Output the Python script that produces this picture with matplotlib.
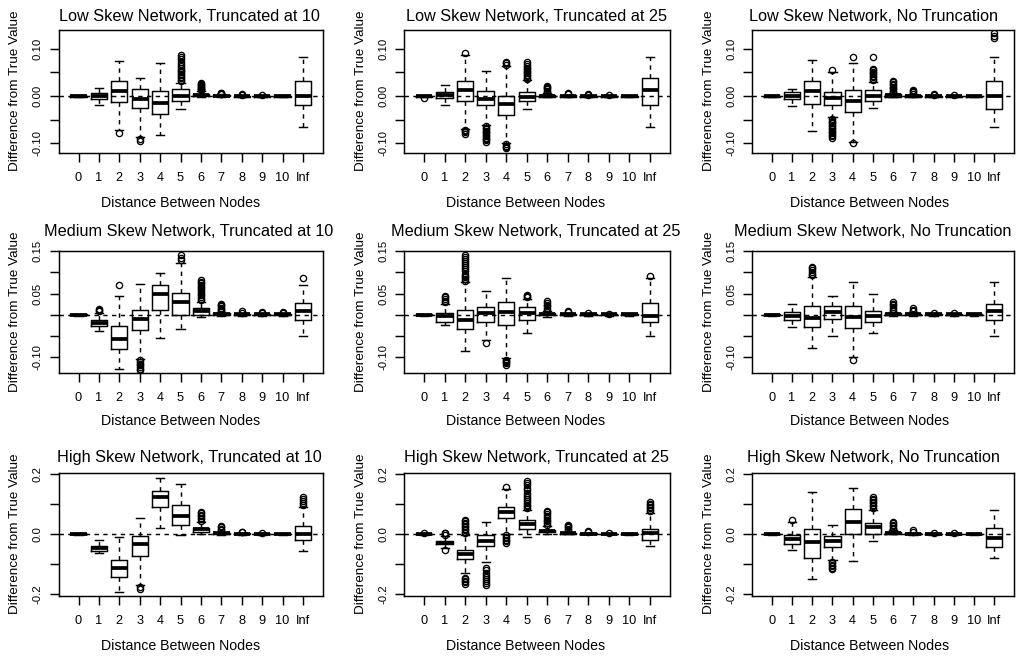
import matplotlib
matplotlib.use("Agg")
import matplotlib.pyplot as plt

plt.rcParams['font.family'] = ['Liberation Sans', 'DejaVu Sans']

# ---------------- data ----------------
categories = ["0", "1", "2", "3", "4", "5", "6", "7", "8", "9", "10", "Inf"]

titles = [
    ["Low Skew Network, Truncated at 10", "Low Skew Network, Truncated at 25", "Low Skew Network, No Truncation"],
    ["Medium Skew Network, Truncated at 10", "Medium Skew Network, Truncated at 25", "Medium Skew Network, No Truncation"],
    ["High Skew Network, Truncated at 10", "High Skew Network, Truncated at 25", "High Skew Network, No Truncation"],
]
x_label = "Distance Between Nodes"
y_label = "Difference from True Value"

low_ticks = [-0.10, -0.05, 0.00, 0.05, 0.10]
low_ticklabels = ["-0.10", "", "0.00", "", "0.10"]
med_ticks = [-0.10, -0.05, 0.00, 0.05, 0.10, 0.15]
med_ticklabels = ["-0.10", "", "", "0.05", "", "0.15"]
high_ticks = [-0.2, -0.1, 0.0, 0.1, 0.2]
high_ticklabels = ["-0.2", "", "0.0", "", "0.2"]

# Low skew, truncated at 10
low10_whislo = [-0.002, -0.020, -0.072, -0.086, -0.083, -0.027, -0.003, -0.002, -0.002, -0.002, -0.002, -0.066]
low10_q1 = [-0.001, -0.006, -0.013, -0.026, -0.039, -0.010, 0.000, 0.000, -0.001, -0.001, -0.001, -0.020]
low10_med = [0.000, 0.000, 0.010, -0.006, -0.014, 0.000, 0.002, 0.001, 0.000, 0.000, 0.000, 0.000]
low10_q3 = [0.001, 0.006, 0.031, 0.015, 0.011, 0.014, 0.004, 0.002, 0.001, 0.001, 0.001, 0.031]
low10_whishi = [0.002, 0.017, 0.074, 0.039, 0.071, 0.028, 0.010, 0.004, 0.003, 0.002, 0.002, 0.082]
low10_fliers = [[], [], [-0.079], [-0.092, -0.096], [],
                [0.032, 0.035, 0.038, 0.041, 0.044, 0.047, 0.050, 0.053, 0.056, 0.060, 0.064, 0.068, 0.073, 0.078, 0.082, 0.086],
                [0.012, 0.014, 0.016, 0.018, 0.020, 0.022, 0.024, 0.026, 0.028],
                [0.004, 0.005, 0.006, 0.007], [0.003, 0.004], [0.003], [], []]

# Low skew, truncated at 25
low25_whislo = [-0.002, -0.018, -0.069, -0.061, -0.099, -0.027, -0.002, -0.002, -0.002, -0.002, -0.002, -0.066]
low25_q1 = [-0.001, -0.005, -0.011, -0.019, -0.040, -0.011, -0.001, -0.001, -0.001, -0.001, -0.001, -0.020]
low25_med = [0.000, 0.002, 0.012, -0.006, -0.016, -0.001, 0.001, 0.001, 0.000, 0.000, 0.000, 0.012]
low25_q3 = [0.001, 0.008, 0.031, 0.010, 0.000, 0.009, 0.003, 0.002, 0.001, 0.001, 0.001, 0.038]
low25_whishi = [0.001, 0.023, 0.088, 0.053, 0.064, 0.033, 0.006, 0.003, 0.002, 0.002, 0.001, 0.082]
low25_fliers = [[-0.004], [], [0.091, -0.071, -0.074, -0.077, -0.080],
                [-0.064, -0.067, -0.070, -0.073, -0.076, -0.079, -0.082, -0.085, -0.088, -0.091, -0.094, -0.097],
                [0.066, 0.069, 0.072, -0.102, -0.105, -0.108, -0.111],
                [0.036, 0.039, 0.042, 0.045, 0.048, 0.051, 0.054, 0.057, 0.060, 0.064, 0.068, 0.072],
                [0.008, 0.011, 0.014, 0.017, 0.020, 0.022],
                [0.004, 0.006], [0.003, 0.004], [0.002], [], []]

# Low skew, no truncation
lownt_whislo = [-0.002, -0.021, -0.075, -0.045, -0.097, -0.026, -0.002, -0.002, -0.002, -0.002, -0.002, -0.066]
lownt_q1 = [-0.001, -0.007, -0.016, -0.020, -0.034, -0.011, -0.001, -0.001, -0.001, -0.001, -0.001, -0.027]
lownt_med = [0.000, 0.001, 0.011, -0.004, -0.011, 0.000, 0.002, 0.001, 0.000, 0.000, 0.000, 0.000]
lownt_q3 = [0.001, 0.009, 0.031, 0.009, 0.012, 0.012, 0.004, 0.002, 0.001, 0.001, 0.001, 0.031]
lownt_whishi = [0.002, 0.016, 0.076, 0.050, 0.069, 0.030, 0.006, 0.004, 0.003, 0.002, 0.001, 0.082]
lownt_fliers = [[], [], [],
                [0.055, -0.049, -0.052, -0.055, -0.058, -0.061, -0.064, -0.067, -0.070, -0.073, -0.076, -0.079, -0.082, -0.085, -0.088],
                [0.082, -0.100],
                [0.034, 0.037, 0.040, 0.043, 0.046, 0.049, 0.052, 0.055, 0.058, 0.082],
                [0.008, 0.011, 0.014, 0.017, 0.020, 0.023, 0.026, 0.029, 0.032],
                [0.005, 0.008, 0.011, 0.013], [0.003, 0.005], [0.003], [], [0.122, 0.128, 0.134]]

# Medium skew, truncated at 10
med10_whislo = [-0.002, -0.037, -0.128, -0.103, -0.055, -0.034, -0.006, -0.002, -0.002, -0.002, -0.002, -0.050]
med10_q1 = [-0.001, -0.027, -0.080, -0.035, 0.012, 0.000, 0.000, -0.001, -0.001, -0.001, -0.001, -0.012]
med10_med = [0.000, -0.019, -0.056, -0.009, 0.048, 0.031, 0.009, 0.002, 0.001, 0.001, 0.001, 0.008]
med10_q3 = [0.001, -0.013, -0.027, 0.012, 0.069, 0.052, 0.016, 0.004, 0.002, 0.002, 0.002, 0.027]
med10_whishi = [0.002, 0.005, 0.045, 0.073, 0.098, 0.122, 0.030, 0.006, 0.004, 0.003, 0.003, 0.071]
med10_fliers = [[], [0.008, 0.011, 0.014], [0.069],
                [-0.107, -0.111, -0.115, -0.119, -0.123, -0.127, -0.130], [],
                [0.128, 0.134, 0.140],
                [0.034, 0.038, 0.042, 0.046, 0.050, 0.054, 0.058, 0.062, 0.066, 0.070, 0.074, 0.078, 0.082],
                [0.008, 0.011, 0.014, 0.017, 0.020, 0.023, 0.026], [0.005, 0.008], [0.005, 0.007], [0.004, 0.006], [0.087]]

# Medium skew, truncated at 25
med25_whislo = [-0.002, -0.025, -0.085, -0.058, -0.102, -0.042, -0.004, -0.002, -0.002, -0.002, -0.002, -0.050]
med25_q1 = [-0.001, -0.016, -0.034, -0.016, -0.023, -0.011, -0.001, -0.001, -0.001, -0.001, -0.001, -0.016]
med25_med = [0.000, -0.002, -0.011, 0.005, 0.006, 0.004, 0.002, 0.001, 0.001, 0.001, 0.001, -0.002]
med25_q3 = [0.001, 0.004, 0.012, 0.018, 0.029, 0.018, 0.005, 0.003, 0.002, 0.002, 0.002, 0.027]
med25_whishi = [0.002, 0.026, 0.077, 0.057, 0.086, 0.037, 0.008, 0.005, 0.003, 0.003, 0.002, 0.086]
med25_fliers = [[], [0.029, 0.033, 0.037, 0.041, 0.045],
                [0.080, 0.084, 0.088, 0.092, 0.097, 0.102, 0.107, 0.112, 0.117, 0.122, 0.127, 0.132, 0.137, 0.141],
                [-0.066], [-0.105, -0.108, -0.111, -0.114, -0.117],
                [0.041, 0.044, 0.047],
                [0.012, 0.016, 0.020, 0.024, 0.028, 0.032],
                [0.007, 0.010], [0.004], [0.003], [], [0.092]]

# Medium skew, no truncation
mednt_whislo = [-0.002, -0.029, -0.077, -0.050, -0.100, -0.042, -0.003, -0.002, -0.002, -0.002, -0.002, -0.050]
mednt_q1 = [-0.001, -0.013, -0.029, -0.009, -0.030, -0.017, -0.001, -0.001, -0.001, -0.001, -0.001, -0.012]
mednt_med = [0.000, -0.002, -0.007, 0.006, -0.004, -0.003, 0.001, 0.001, 0.001, 0.001, 0.001, 0.009]
mednt_q3 = [0.001, 0.006, 0.021, 0.021, 0.021, 0.010, 0.004, 0.003, 0.002, 0.002, 0.002, 0.026]
mednt_whishi = [0.002, 0.026, 0.090, 0.045, 0.077, 0.048, 0.007, 0.006, 0.004, 0.003, 0.002, 0.078]
mednt_fliers = [[], [], [0.093, 0.097, 0.101, 0.105, 0.109, 0.112], [], [-0.107], [],
                [0.010, 0.014, 0.018, 0.022, 0.026, 0.029],
                [0.009, 0.012, 0.015], [0.005], [0.004], [], []]

# High skew, truncated at 10
high10_whislo = [-0.002, -0.064, -0.192, -0.168, 0.021, -0.003, 0.000, -0.002, -0.002, -0.002, -0.002, -0.056]
high10_q1 = [-0.001, -0.056, -0.142, -0.073, 0.091, 0.030, 0.006, -0.001, -0.001, -0.001, -0.001, -0.020]
high10_med = [0.000, -0.048, -0.112, -0.034, 0.122, 0.061, 0.016, 0.002, 0.001, 0.000, 0.000, 0.000]
high10_q3 = [0.001, -0.040, -0.087, -0.006, 0.143, 0.097, 0.021, 0.004, 0.002, 0.001, 0.001, 0.028]
high10_whishi = [0.002, -0.020, -0.011, 0.052, 0.186, 0.166, 0.040, 0.008, 0.004, 0.003, 0.002, 0.090]
high10_fliers = [[], [], [], [-0.176, -0.183], [], [],
                 [0.044, 0.049, 0.054, 0.059, 0.064, 0.069, 0.073],
                 [0.012, 0.017, 0.022, 0.027], [0.006, 0.008], [0.004], [], [0.096, 0.102, 0.110, 0.117, 0.124]]

# High skew, truncated at 25
high25_whislo = [-0.002, -0.046, -0.129, -0.092, 0.000, -0.011, 0.001, -0.001, -0.001, -0.001, -0.002, -0.039]
high25_q1 = [-0.001, -0.034, -0.084, -0.039, 0.052, 0.017, 0.006, 0.000, 0.000, 0.000, -0.001, -0.020]
high25_med = [0.000, -0.029, -0.068, -0.022, 0.072, 0.033, 0.010, 0.002, 0.001, 0.000, 0.000, 0.002]
high25_q3 = [0.001, -0.023, -0.053, -0.003, 0.091, 0.047, 0.014, 0.004, 0.002, 0.001, 0.001, 0.018]
high25_whishi = [0.002, -0.006, -0.003, 0.039, 0.150, 0.080, 0.026, 0.008, 0.004, 0.003, 0.002, 0.071]
high25_fliers = [[0.003], [-0.002, 0.002, 0.005, -0.052],
                 [0.002, 0.007, 0.012, 0.017, 0.022, 0.027, 0.032, 0.037, 0.042, 0.047, -0.146, -0.151, -0.156, -0.161, -0.166],
                 [-0.114, -0.121, -0.128, -0.135, -0.142, -0.149, -0.156, -0.163, -0.168],
                 [0.156, -0.004, -0.009, -0.014, -0.019, -0.024, -0.029],
                 [0.086, 0.092, 0.098, 0.104, 0.110, 0.116, 0.122, 0.130, 0.138, 0.146, 0.154, 0.162, 0.170, 0.175],
                 [0.030, 0.036, 0.042, 0.048, 0.054, 0.060, 0.066, 0.072, 0.078],
                 [0.012, 0.017, 0.022, 0.027, 0.030], [0.006, 0.010], [0.005], [],
                 [0.075, 0.080, 0.085, 0.090, 0.095, 0.100, 0.105]]

# High skew, no truncation
highnt_whislo = [-0.002, -0.053, -0.148, -0.087, -0.089, -0.022, -0.001, -0.002, -0.002, -0.002, -0.002, -0.078]
highnt_q1 = [-0.001, -0.034, -0.078, -0.042, 0.000, 0.000, 0.001, -0.001, -0.001, -0.001, -0.001, -0.042]
highnt_med = [0.000, -0.018, -0.026, -0.023, 0.041, 0.022, 0.004, 0.001, 0.000, 0.000, 0.000, -0.012]
highnt_q3 = [0.001, -0.003, 0.016, -0.006, 0.083, 0.036, 0.008, 0.003, 0.001, 0.001, 0.001, 0.019]
highnt_whishi = [0.002, 0.039, 0.141, 0.030, 0.154, 0.080, 0.012, 0.005, 0.003, 0.002, 0.002, 0.080]
highnt_fliers = [[], [0.047], [], [-0.092, -0.097, -0.102, -0.107, -0.112, -0.117], [],
                 [0.088, 0.093, 0.098, 0.103, 0.108, 0.113, 0.118, 0.123],
                 [0.016, 0.021, 0.026, 0.031, 0.036, 0.041],
                 [0.008, 0.012], [0.005], [0.003], [], []]

panels = [
    [(low10_whislo, low10_q1, low10_med, low10_q3, low10_whishi, low10_fliers),
     (low25_whislo, low25_q1, low25_med, low25_q3, low25_whishi, low25_fliers),
     (lownt_whislo, lownt_q1, lownt_med, lownt_q3, lownt_whishi, lownt_fliers)],
    [(med10_whislo, med10_q1, med10_med, med10_q3, med10_whishi, med10_fliers),
     (med25_whislo, med25_q1, med25_med, med25_q3, med25_whishi, med25_fliers),
     (mednt_whislo, mednt_q1, mednt_med, mednt_q3, mednt_whishi, mednt_fliers)],
    [(high10_whislo, high10_q1, high10_med, high10_q3, high10_whishi, high10_fliers),
     (high25_whislo, high25_q1, high25_med, high25_q3, high25_whishi, high25_fliers),
     (highnt_whislo, highnt_q1, highnt_med, highnt_q3, highnt_whishi, highnt_fliers)],
]
row_ticks = [(low_ticks, low_ticklabels), (med_ticks, med_ticklabels), (high_ticks, high_ticklabels)]

# ---------------- layout (pixels) ----------------
W, H = 1021, 656
col_lr = [(58.5, 323.0), (404.0, 670.0), (752.0, 1014.0)]
row_tb = [(29.5, 152.7), (251.0, 372.7), (472.7, 595.7)]
row_ylim = [(-0.120, 0.141), (-0.136, 0.1495), (-0.205, 0.204)]
title_x = [189, 536, 873]
title_base = [21, 236, 462]
xlab_x = [181, 526, 870]
xlab_base = [207, 425, 650]
ylab_off = 43.5

fig = plt.figure(figsize=(W / 100, H / 100), dpi=100)

dash = (0, (3.0, 3.0))
lw = 1.05
for r in range(3):
    top, bot = row_tb[r]
    for c in range(3):
        left, right = col_lr[c]
        ax = fig.add_axes([left / W, 1 - bot / H, (right - left) / W, (bot - top) / H])
        wlo, q1, med, q3, whi, fl = panels[r][c]
        stats = [dict(whislo=wlo[i], q1=q1[i], med=med[i], q3=q3[i], whishi=whi[i], fliers=fl[i])
                 for i in range(len(categories))]
        ax.bxp(stats, positions=list(range(1, len(categories) + 1)), widths=0.8, capwidths=0.4,
               showfliers=True, manage_ticks=False,
               boxprops=dict(color='black', lw=lw),
               medianprops=dict(color='black', lw=2.7, solid_capstyle='butt'),
               whiskerprops=dict(color='black', lw=lw, linestyle=dash),
               capprops=dict(color='black', lw=lw),
               flierprops=dict(marker='o', markerfacecolor='none', markeredgecolor='black',
                               markersize=4.5, markeredgewidth=0.95, linestyle='none'))
        ax.axhline(0, color='black', lw=lw, linestyle=dash)
        ax.set_xlim(0.02, 12.98)
        ax.set_ylim(*row_ylim[r])
        ax.set_xticks(list(range(1, len(categories) + 1)))
        ax.set_xticklabels(categories, fontsize=9.2)
        ticks, labels = row_ticks[r]
        ax.set_yticks(ticks)
        ax.set_yticklabels(labels, fontsize=8.2, rotation=90, va='center')
        ax.tick_params(axis='x', length=6.8, width=lw, pad=7.0, direction='out')
        ax.tick_params(axis='y', length=6.8, width=lw, pad=4.5, direction='out')
        for s in ax.spines.values():
            s.set_linewidth(lw)
            s.set_color('black')
        fig.text(title_x[c] / W, 1 - title_base[r] / H, titles[r][c], fontsize=11.7,
                 ha='center', va='baseline')
        fig.text(xlab_x[c] / W, 1 - xlab_base[r] / H, x_label, fontsize=10.2,
                 ha='center', va='baseline')
        fig.text((left - ylab_off) / W, 1 - (top + bot) / 2 / H, y_label, fontsize=9.7,
                 rotation=90, ha='center', va='center')

fig.savefig("out.png", dpi=100)
